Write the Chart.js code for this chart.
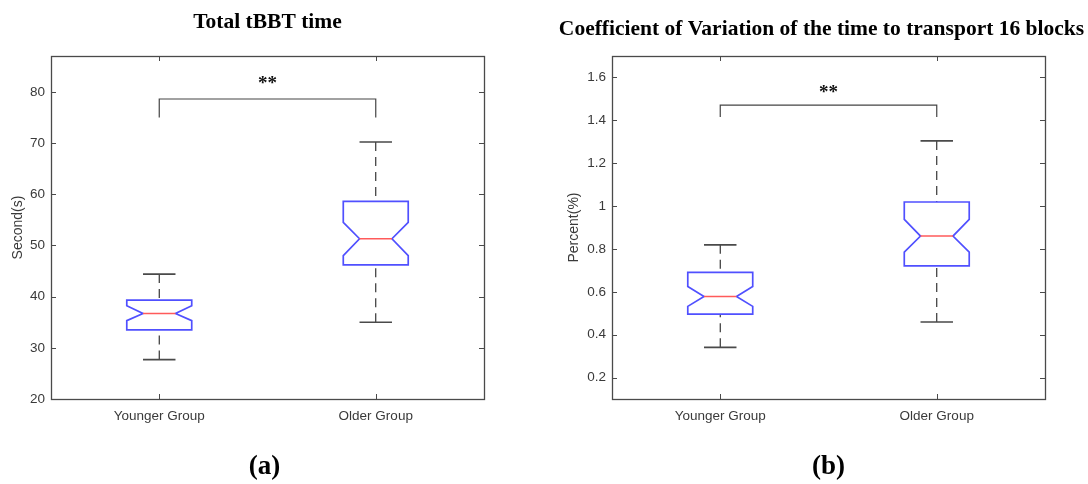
<!DOCTYPE html>
<html><head><meta charset="utf-8">
<script src="https://cdn.jsdelivr.net/npm/chart.js@4.4.1/dist/chart.umd.min.js"></script>
<style>
html,body{margin:0;padding:0;background:#fff;}
#wrap{position:relative;width:1088px;height:484px;overflow:hidden;background:#fff;}
.cell{position:absolute;top:0;width:544px;height:484px;}
</style></head><body>
<div id="wrap">
  <div class="cell" style="left:0"><canvas id="ca" width="544" height="484"></canvas></div>
  <div class="cell" style="left:544px"><canvas id="cb" width="544" height="484"></canvas></div>
</div>
<script>
const categories = ['Younger Group', 'Older Group'];

// (a) Total tBBT time, seconds
const timeLowerWhisker = [27.7, 35.0];
const timeQ1 = [33.5, 46.2];
const timeNotchLow = [35.3, 48.0];
const timeMedian = [36.7, 51.3];
const timeNotchHigh = [38.2, 54.5];
const timeQ3 = [39.3, 58.6];
const timeUpperWhisker = [44.4, 70.2];
const timeTicks = [20, 30, 40, 50, 60, 70, 80];
const timeTickLabels = ['20', '30', '40', '50', '60', '70', '80'];
const timeBracket = [78.6, 75.0];
const timeStarLevel = 82.3;

// (b) Coefficient of variation, percent
const cvLowerWhisker = [0.341, 0.459];
const cvQ1 = [0.496, 0.721];
const cvNotchLow = [0.532, 0.785];
const cvMedian = [0.578, 0.860];
const cvNotchHigh = [0.625, 0.938];
const cvQ3 = [0.691, 1.019];
const cvUpperWhisker = [0.819, 1.304];
const cvTicks = [0.2, 0.4, 0.6, 0.8, 1.0, 1.2, 1.4, 1.6];
const cvTickLabels = ['0.2', '0.4', '0.6', '0.8', '1', '1.2', '1.4', '1.6'];
const cvBracket = [1.471, 1.415];
const cvStarLevel = 1.545;

const BOX_HALF = 0.15, NOTCH_HALF = 0.075, CAP_HALF = 0.075;

const notchPlugin = {
  id: 'notchBox',
  afterDatasetsDraw(chart, args, o) {
    const {ctx, chartArea: a, scales: {x, y}} = chart;
    const unit = x.getPixelForValue(2) - x.getPixelForValue(1);
    ctx.save();
    ctx.lineJoin = 'miter';
    for (let i = 0; i < o.median.length; i++) {
      const c = x.getPixelForValue(i + 1);
      const bw = BOX_HALF * unit, nw = NOTCH_HALF * unit, cw = CAP_HALF * unit;
      const yq1 = y.getPixelForValue(o.q1[i]), yq3 = y.getPixelForValue(o.q3[i]);
      const ynl = y.getPixelForValue(o.notchLow[i]), ynh = y.getPixelForValue(o.notchHigh[i]);
      const ym = y.getPixelForValue(o.median[i]);
      const ylw = y.getPixelForValue(o.lowerWhisker[i]), yuw = y.getPixelForValue(o.upperWhisker[i]);
      // whiskers
      ctx.strokeStyle = '#222'; ctx.lineWidth = 1.1; ctx.setLineDash([9, 6]);
      ctx.beginPath(); ctx.moveTo(c, yuw); ctx.lineTo(c, yq3); ctx.stroke();
      ctx.beginPath(); ctx.moveTo(c, ylw); ctx.lineTo(c, yq1); ctx.stroke();
      ctx.setLineDash([]);
      // caps
      ctx.strokeStyle = '#4a4a4a'; ctx.lineWidth = 1.6;
      ctx.beginPath(); ctx.moveTo(c - cw, yuw); ctx.lineTo(c + cw, yuw);
      ctx.moveTo(c - cw, ylw); ctx.lineTo(c + cw, ylw); ctx.stroke();
      // notched box
      ctx.strokeStyle = '#5050ff'; ctx.lineWidth = 1.7;
      ctx.beginPath();
      ctx.moveTo(c - bw, yq3); ctx.lineTo(c + bw, yq3); ctx.lineTo(c + bw, ynh);
      ctx.lineTo(c + nw, ym); ctx.lineTo(c + bw, ynl); ctx.lineTo(c + bw, yq1);
      ctx.lineTo(c - bw, yq1); ctx.lineTo(c - bw, ynl); ctx.lineTo(c - nw, ym);
      ctx.lineTo(c - bw, ynh); ctx.closePath(); ctx.stroke();
      // median
      ctx.strokeStyle = '#ff5a5a'; ctx.lineWidth = 1.5;
      ctx.beginPath(); ctx.moveTo(c - nw, ym); ctx.lineTo(c + nw, ym); ctx.stroke();
    }
    // significance bracket
    const x1 = x.getPixelForValue(1), x2 = x.getPixelForValue(2);
    const yb = y.getPixelForValue(o.bracket[0]), ye = y.getPixelForValue(o.bracket[1]);
    ctx.strokeStyle = '#444'; ctx.lineWidth = 1.2;
    ctx.beginPath(); ctx.moveTo(x1, ye); ctx.lineTo(x1, yb); ctx.lineTo(x2, yb); ctx.lineTo(x2, ye); ctx.stroke();
    ctx.fillStyle = '#111';
    ctx.font = 'bold 19px "Liberation Serif"';
    ctx.textAlign = 'center'; ctx.textBaseline = 'alphabetic';
    ctx.fillText('**', (x1 + x2) / 2, y.getPixelForValue(o.starLevel) + 9);
    // frame
    ctx.strokeStyle = '#4a4a4a'; ctx.lineWidth = 1.3;
    ctx.strokeRect(a.left + 0.5, a.top + 0.5, a.right - a.left, a.bottom - a.top);
    // inward ticks
    ctx.lineWidth = 1;
    ctx.beginPath();
    y.ticks.forEach(t => {
      const py = Math.round(y.getPixelForValue(t.value)) + 0.5;
      ctx.moveTo(a.left, py); ctx.lineTo(a.left + 5, py);
      ctx.moveTo(a.right, py); ctx.lineTo(a.right - 5, py);
    });
    x.ticks.forEach(t => {
      const px = Math.round(x.getPixelForValue(t.value)) + 0.5;
      ctx.moveTo(px, a.bottom); ctx.lineTo(px, a.bottom - 5);
      ctx.moveTo(px, a.top); ctx.lineTo(px, a.top + 5);
    });
    ctx.stroke();
    // titles
    ctx.fillStyle = '#000';
    ctx.font = 'bold 21.5px "Liberation Serif"';
    ctx.textBaseline = 'middle';
    ctx.fillText(o.title, (a.left + a.right) / 2 + o.titleShift, o.titleY);
    ctx.font = 'bold 27px "Liberation Serif"';
    ctx.fillText(o.caption, (a.left + a.right) / 2 + o.captionShift, 467);
    ctx.restore();
  }
};

const tickFont = {family: '"Liberation Sans", Arial, sans-serif', size: 13.5};
const titleFont = {family: '"Liberation Sans", Arial, sans-serif', size: 14};

function makeChart(id, cfg) {
  return new Chart(document.getElementById(id), {
    type: 'scatter',
    data: {datasets: [{data: cfg.median.map((m, i) => ({x: i + 1, y: m})), pointRadius: 0, showLine: false}]},
    options: {
      responsive: false, animation: false, events: [],
      layout: {padding: {top: 56, right: cfg.padRight, bottom: 0, left: 0}},
      plugins: {legend: {display: false}, tooltip: {enabled: false}, title: {display: false}, notchBox: cfg},
      scales: {
        x: {
          type: 'linear', min: 0.5, max: 2.5,
          afterBuildTicks(s) { s.ticks = categories.map((c, i) => ({value: i + 1})); },
          afterFit(s) { s.height = 85; },
          grid: {display: false, drawTicks: false}, border: {display: false},
          ticks: {callback: (v) => categories[Math.round(v) - 1], font: tickFont, color: '#3a3a3a', padding: 9, maxRotation: 0, autoSkip: false}
        },
        y: {
          type: 'linear', min: cfg.yMin, max: cfg.yMax,
          afterBuildTicks(s) { s.ticks = cfg.ticks.map(v => ({value: v})); },
          afterFit(s) { s.width = cfg.yWidth; },
          grid: {display: false, drawTicks: false}, border: {display: false},
          ticks: {callback: (v, i) => cfg.tickLabels[i], font: tickFont, color: '#3a3a3a', padding: 6, autoSkip: false},
          title: {display: true, text: cfg.yTitle, font: titleFont, color: '#3a3a3a', padding: {top: cfg.yTitlePad, bottom: 0}}
        }
      }
    },
    plugins: [notchPlugin]
  });
}

makeChart('ca', {
  lowerWhisker: timeLowerWhisker, q1: timeQ1, notchLow: timeNotchLow, median: timeMedian,
  notchHigh: timeNotchHigh, q3: timeQ3, upperWhisker: timeUpperWhisker,
  ticks: timeTicks, tickLabels: timeTickLabels, bracket: timeBracket, starLevel: timeStarLevel,
  yMin: 20, yMax: 87, yWidth: 51, padRight: 60, yTitle: 'Second(s)', yTitlePad: 10,
  title: 'Total tBBT time', titleY: 22, titleShift: 0, caption: '(a)', captionShift: -3
});
makeChart('cb', {
  lowerWhisker: cvLowerWhisker, q1: cvQ1, notchLow: cvNotchLow, median: cvMedian,
  notchHigh: cvNotchHigh, q3: cvQ3, upperWhisker: cvUpperWhisker,
  ticks: cvTicks, tickLabels: cvTickLabels, bracket: cvBracket, starLevel: cvStarLevel,
  yMin: 0.1, yMax: 1.7, yWidth: 68, padRight: 43, yTitle: 'Percent(%)', yTitlePad: 22,
  title: 'Coefficient of Variation of the time to transport 16 blocks', titleY: 29, titleShift: -7, caption: '(b)', captionShift: 0
});
</script>
</body></html>
